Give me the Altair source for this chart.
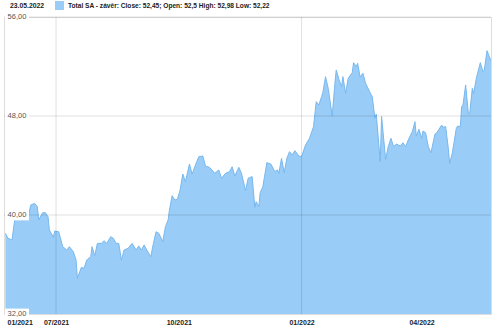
import altair as alt
import pandas as pd

dates = [
    "2021-05-24", "2021-05-26", "2021-05-29", "2021-05-31", "2021-06-03", "2021-06-06",
    "2021-06-10", "2021-06-12", "2021-06-15", "2021-06-17", "2021-06-18", "2021-06-21",
    "2021-06-23", "2021-06-25", "2021-06-26", "2021-06-29", "2021-06-30", "2021-07-03",
    "2021-07-06", "2021-07-09", "2021-07-11", "2021-07-14", "2021-07-16", "2021-07-17",
    "2021-07-20", "2021-07-22", "2021-07-24", "2021-07-27", "2021-07-28", "2021-07-30",
    "2021-08-01", "2021-08-04", "2021-08-06", "2021-08-08", "2021-08-11", "2021-08-13",
    "2021-08-15", "2021-08-17", "2021-08-19", "2021-08-21", "2021-08-24", "2021-08-27",
    "2021-08-30", "2021-09-01", "2021-09-03", "2021-09-05", "2021-09-07", "2021-09-10",
    "2021-09-12", "2021-09-14", "2021-09-16", "2021-09-19", "2021-09-21", "2021-09-23",
    "2021-09-24", "2021-09-26", "2021-09-28", "2021-09-30", "2021-10-02", "2021-10-04",
    "2021-10-06", "2021-10-09", "2021-10-11", "2021-10-14", "2021-10-16", "2021-10-19",
    "2021-10-21", "2021-10-24", "2021-10-28", "2021-10-31", "2021-11-02", "2021-11-05",
    "2021-11-08", "2021-11-10", "2021-11-12", "2021-11-15", "2021-11-17", "2021-11-20",
    "2021-11-22", "2021-11-25", "2021-11-27", "2021-11-28", "2021-11-30", "2021-12-01",
    "2021-12-03", "2021-12-06", "2021-12-09", "2021-12-12", "2021-12-14", "2021-12-15",
    "2021-12-17", "2021-12-19", "2021-12-21", "2021-12-23", "2021-12-25", "2021-12-27",
    "2021-12-30", "2022-01-01", "2022-01-04", "2022-01-07", "2022-01-10", "2022-01-12",
    "2022-01-14", "2022-01-16", "2022-01-17", "2022-01-19", "2022-01-21", "2022-01-24",
    "2022-01-26", "2022-01-27", "2022-01-29", "2022-01-31", "2022-02-01", "2022-02-03",
    "2022-02-05", "2022-02-08", "2022-02-09", "2022-02-11", "2022-02-12", "2022-02-14",
    "2022-02-16", "2022-02-18", "2022-02-21", "2022-02-23", "2022-02-25", "2022-02-26",
    "2022-03-01", "2022-03-02", "2022-03-05", "2022-03-07", "2022-03-09", "2022-03-11",
    "2022-03-13", "2022-03-16", "2022-03-18", "2022-03-20", "2022-03-22", "2022-03-25",
    "2022-03-27", "2022-03-28", "2022-03-30", "2022-04-01", "2022-04-02", "2022-04-04",
    "2022-04-06", "2022-04-08", "2022-04-11", "2022-04-12", "2022-04-14", "2022-04-16",
    "2022-04-17", "2022-04-19", "2022-04-21", "2022-04-22", "2022-04-24", "2022-04-27",
    "2022-04-28", "2022-04-30", "2022-05-01", "2022-05-02", "2022-05-04", "2022-05-06",
    "2022-05-07", "2022-05-09", "2022-05-10", "2022-05-12", "2022-05-15", "2022-05-17",
    "2022-05-18", "2022-05-20", "2022-05-23",
]

close = [
    38.52, 38.12, 37.98, 39.60, 39.73, 39.54,
    39.73, 40.80, 40.94, 40.67, 39.60, 40.19,
    40.19, 39.86, 38.79, 38.20, 38.70, 38.65,
    37.44, 37.17, 37.44, 37.03, 36.36, 34.88,
    35.77, 35.69, 36.36, 36.63, 37.44, 36.71,
    37.71, 37.71, 37.92, 37.71, 38.25, 38.11,
    37.71, 37.71, 36.36, 37.17, 37.31, 37.71,
    37.17, 37.50, 37.17, 37.58, 37.17, 36.63,
    37.71, 38.65, 38.52, 37.85, 39.06, 39.60,
    40.40, 41.56, 41.21, 41.27, 42.02, 43.31,
    42.69, 44.12, 43.31, 44.18, 44.71, 44.77,
    43.96, 43.85, 43.37, 43.64, 42.97, 43.37,
    43.50, 43.90, 43.15, 43.85, 43.37, 41.96,
    42.97, 43.10, 40.62, 41.08, 40.67, 41.80,
    42.29, 44.23, 44.12, 43.50, 43.64, 43.37,
    44.58, 43.42, 44.58, 45.12, 44.85, 45.20,
    44.77, 44.71, 45.66, 46.20, 47.14, 49.16,
    48.89, 49.56, 49.90, 51.18, 50.24, 48.00,
    50.64, 51.72, 50.97, 50.37, 51.18, 49.83,
    51.05, 51.50, 52.31, 51.98, 52.26, 51.13,
    51.45, 50.64, 49.97, 49.56, 47.81, 48.16,
    44.31, 47.95, 44.50, 45.52, 46.20, 45.52,
    45.74, 45.58, 45.84, 45.52, 46.06, 46.73,
    47.54, 46.38, 46.92, 46.20, 46.79, 46.65,
    45.52, 45.03, 46.54, 46.60, 46.92, 47.27,
    47.09, 47.14, 45.39, 44.18, 44.99, 47.00,
    47.19, 47.14, 48.75, 48.89, 50.51, 48.22,
    48.16, 50.24, 49.83, 51.05, 52.31, 51.58,
    51.72, 53.28, 52.45,
]

series_label = "Total SA - závěr: Close: 52,45; Open: 52,5 High: 52,98 Low: 52,22"
header_date = "23.05.2022"

y_ticks = [32, 40, 48, 56]
y_tick_labels = ["32,00", "40,00", "48,00", "56,00"]
h_grid = [40, 48, 56]
v_grid = ["2021-07-01", "2022-01-01"]

FONT = "Liberation Sans"

df = pd.DataFrame({"date": dates, "close": close, "series": series_label})
ydf = pd.DataFrame({"v": y_ticks, "label": y_tick_labels})
hdf = pd.DataFrame({"v": h_grid})
vdf = pd.DataFrame({"d": v_grid})
hdr = pd.DataFrame({"t": [header_date]})

x_scale = alt.Scale(
    type="utc",
    domain=[alt.DateTime(year=2021, month=5, date=23, utc=True),
            alt.DateTime(year=2022, month=5, date=23, utc=True)],
)
y_scale = alt.Scale(domain=[32, 56], nice=False, zero=False)

x_enc = alt.X(
    "date:T",
    scale=x_scale,
    title=None,
    axis=alt.Axis(
        values=[
            alt.DateTime(year=2021, month=5, date=23, utc=True),
            alt.DateTime(year=2021, month=7, date=1, utc=True),
            alt.DateTime(year=2021, month=10, date=1, utc=True),
            alt.DateTime(year=2022, month=1, date=1, utc=True),
            alt.DateTime(year=2022, month=4, date=1, utc=True),
        ],
        labelExpr="utcFormat(datum.value, '%m-%d') == '05-23' ? '01/2021' : utcFormat(datum.value, '%m/%Y')",
        grid=False, ticks=False, domain=False,
        labelFont=FONT, labelFontSize=7, labelFontWeight="bold", labelColor="#222",
        labelPadding=4, labelFlush=True, labelFlushOffset=-3,
    ),
)
y_enc = alt.Y("close:Q", scale=y_scale, axis=None)

area = alt.Chart(df).mark_area(opacity=1, line=False, clip=True).encode(
    x=x_enc,
    y=y_enc,
    color=alt.Color(
        "series:N",
        scale=alt.Scale(range=["#99CDF7"]),
        legend=alt.Legend(
            title=None, orient="none", legendX=51, legendY=-16,
            symbolType="square", symbolSize=81, symbolStrokeWidth=0,
            labelFont=FONT, labelFontSize=6.6, labelFontWeight="bold", labelColor="#222",
            labelOffset=4, padding=0, labelLimit=0,
        ),
    ),
)
line = alt.Chart(df).mark_line(color="#78B8EE", strokeWidth=1, clip=True).encode(
    x=alt.X("date:T", scale=x_scale), y=alt.Y("close:Q", scale=y_scale)
)
hrules = alt.Chart(hdf).mark_rule(color="#000", opacity=0.12, strokeWidth=1).encode(
    y=alt.Y("v:Q", scale=y_scale)
)
vrules = alt.Chart(vdf).mark_rule(color="#000", opacity=0.12, strokeWidth=1).encode(
    x=alt.X("d:T", scale=x_scale)
)
boxes = alt.Chart(ydf).mark_point(
    shape="M-1,-0.45H1V0.45H-1Z", size=576, filled=True, fill="white", opacity=1, strokeWidth=0
).encode(x=alt.value(13), y=alt.Y("v:Q", scale=y_scale))
ylabels = alt.Chart(ydf).mark_text(
    font=FONT, fontSize=7.5, color="#555", align="center", baseline="middle"
).encode(x=alt.value(13), y=alt.Y("v:Q", scale=y_scale), text="label:N")
header = alt.Chart(hdr).mark_text(
    font=FONT, fontSize=6.8, fontWeight="bold", color="#222", align="left", baseline="middle"
).encode(x=alt.value(6), y=alt.value(-11), text="t:N")

chart = alt.layer(area, line, hrules, vrules, boxes, ylabels, header).resolve_scale(
    x="shared", y="shared"
).properties(
    width=487, height=297,
    autosize=alt.AutoSizeParams(type="none"),
    padding={"left": 4, "top": 17, "right": 9, "bottom": 15},
).configure_view(stroke="#dcdcdc", strokeWidth=1).configure(background="white")

chart.save("out.html", embed_options={"renderer": "svg", "actions": False})
